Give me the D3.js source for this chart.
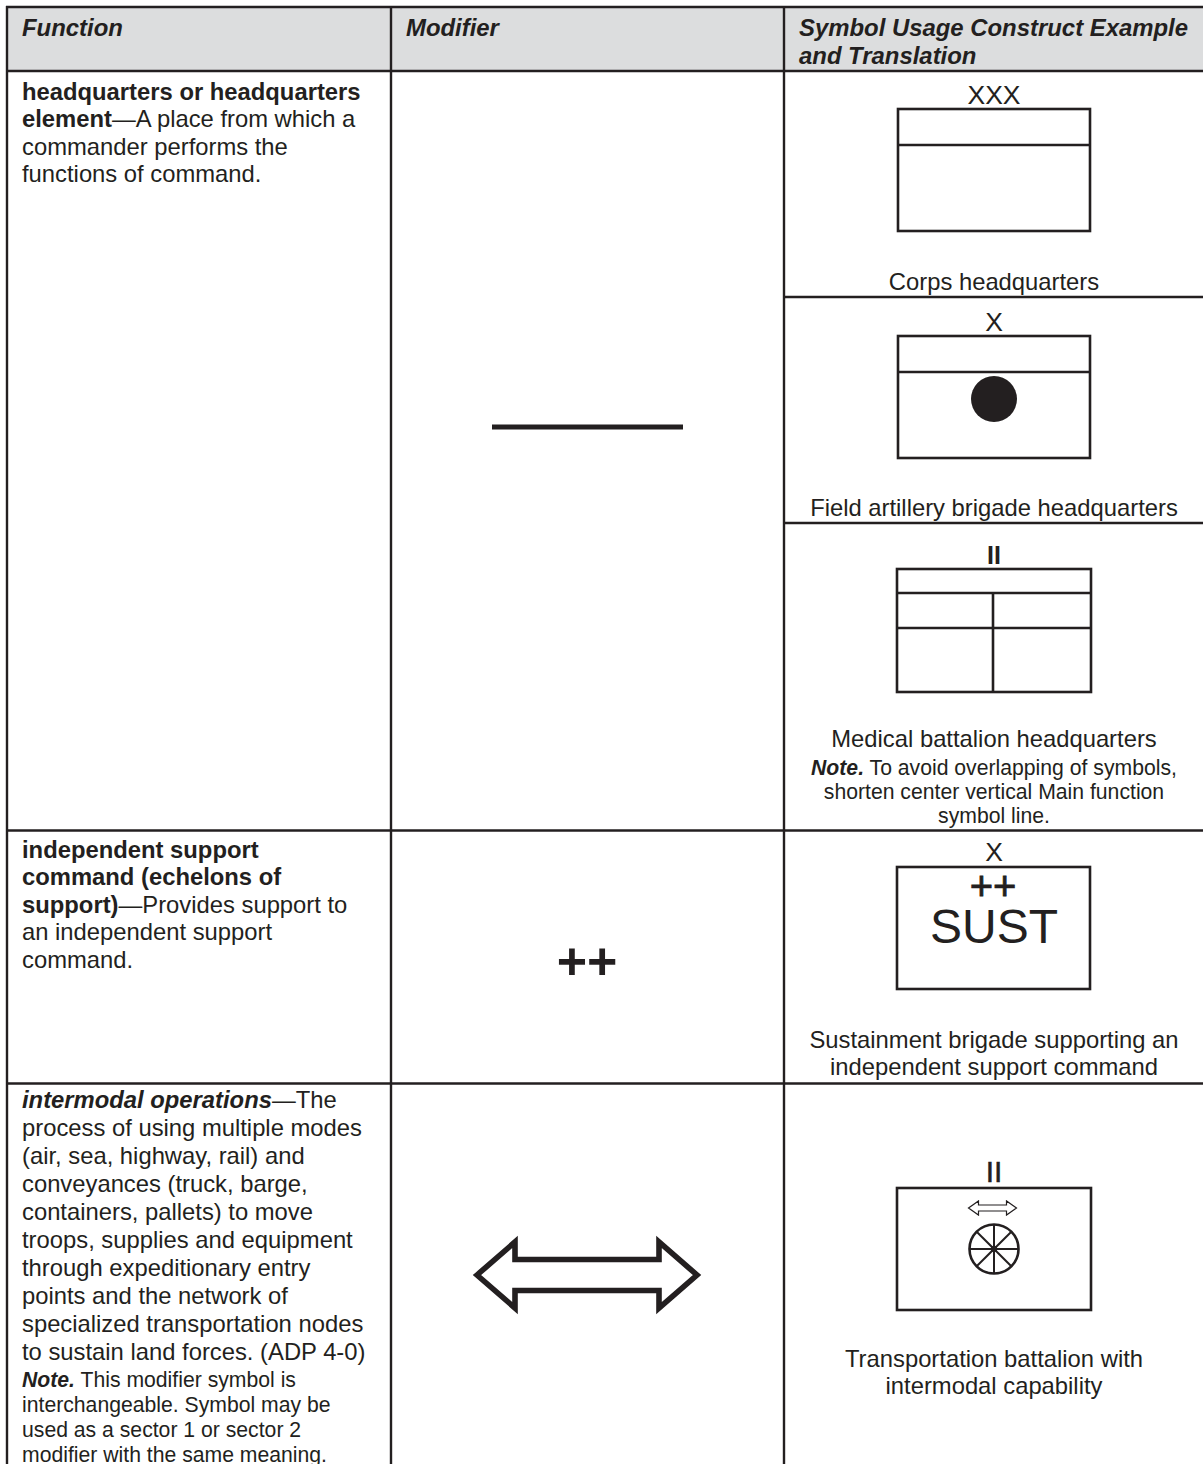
<!DOCTYPE html>
<html>
<head>
<meta charset="utf-8">
<script src="https://cdn.jsdelivr.net/npm/d3@7"></script>
<style>
  html, body { margin: 0; background: #fff; }
  svg { display: block; }
  text { font-family: "Liberation Sans", Arial, sans-serif; fill: #231f20; }
</style>
</head>
<body>
<div id="chart"></div>
<script>
// header
const headers = ["Function", "Modifier", "Symbol Usage Construct Example", "and Translation"];

// first column: term lines + what follows on the same line
const hqTerm  = ["headquarters or headquarters", "element", "", ""];
const hqRest  = ["", "—A place from which a", "commander performs the", "functions of command."];
const iscTerm = ["independent support", "command (echelons of", "support)", "", ""];
const iscRest = ["", "", "—Provides support to", "an independent support", "command."];
const imoTerm = ["intermodal operations"];
const imoRest = ["—The", "process of using multiple modes", "(air, sea, highway, rail) and",
  "conveyances (truck, barge,", "containers, pallets) to move", "troops, supplies and equipment",
  "through expeditionary entry", "points and the network of", "specialized transportation nodes",
  "to sustain land forces. (ADP 4-0)"];
const imoNote = ["This modifier symbol is", "interchangeable. Symbol may be",
  "used as a sector 1 or sector 2", "modifier with the same meaning."];

// third column
const echelons = ["XXX", "X", "II", "X", "II"];
const captions = ["Corps headquarters", "Field artillery brigade headquarters", "Medical battalion headquarters"];
const medNote  = ["To avoid overlapping of symbols,", "shorten center vertical Main function", "symbol line."];
const sustCaption = ["Sustainment brigade supporting an", "independent support command"];
const transCaption = ["Transportation battalion with", "intermodal capability"];

const svg = d3.select("#chart").append("svg").attr("width", 1203).attr("height", 1464);
const INK = "#231f20";
const BODY = 23.8, SMALL = 21.2, HEAD = 23.9;

// header band
svg.append("rect").attr("x", 7).attr("y", 7).attr("width", 1196).attr("height", 64).attr("fill", "#dcddde");

function rule(x1, y1, x2, y2, w) {
  return svg.append("line").attr("x1", x1).attr("y1", y1).attr("x2", x2).attr("y2", y2)
    .attr("stroke", INK).attr("stroke-width", w || 2.4);
}

// table rules
rule(6, 7, 1203, 7);
rule(6, 71, 1203, 71);
rule(6, 830.5, 1203, 830.5);
rule(6, 1083.5, 1203, 1083.5);
rule(784, 297, 1203, 297);
rule(784, 523, 1203, 523);
[7, 391, 784].forEach(x => rule(x, 6, x, 1464));

// helper for a plain text line
function label(x, y, str, size, anchor, weight, style) {
  return svg.append("text").attr("x", x).attr("y", y)
    .attr("font-size", size)
    .attr("text-anchor", anchor || "start")
    .attr("font-weight", weight || "normal")
    .attr("font-style", style || "normal")
    .text(str);
}

// line with a bold lead and regular remainder
function mixed(x, y, lead, rest, size, anchor, italic) {
  const t = svg.append("text").attr("x", x).attr("y", y)
    .attr("font-size", size).attr("text-anchor", anchor || "start");
  if (lead) t.append("tspan").attr("font-weight", "bold")
    .attr("font-style", italic ? "italic" : "normal").text(lead);
  if (rest) t.append("tspan").text(rest);
}

// header text
label(22, 36, headers[0], HEAD, "start", "bold", "italic");
label(406, 36, headers[1], HEAD, "start", "bold", "italic");
label(799, 36, headers[2], HEAD, "start", "bold", "italic");
label(799, 64, headers[3], HEAD, "start", "bold", "italic");

// first column
const LH = 27.4;
hqRest.forEach((r, i) => mixed(22, 100 + i * LH, hqTerm[i], r, BODY));
iscRest.forEach((r, i) => mixed(22, 858 + i * LH, iscTerm[i], r, BODY));
imoRest.forEach((r, i) => mixed(22, 1108 + i * 28, imoTerm[i], r, BODY, "start", true));
imoNote.forEach((r, i) => mixed(22, 1387 + i * 25, i === 0 ? "Note." : "", i === 0 ? " " + r : r, SMALL, "start", true));

// modifier column
rule(492, 427, 683, 427, 5);
label(587, 979, "++", 52, "middle", "bold");

const arrowLine = d3.line();
function doubleArrow(cx, cy, halfLen, headLen, headHalf, stemHalf, w) {
  const xl = cx - halfLen, xr = cx + halfLen;
  const pts = [
    [xl, cy], [xl + headLen, cy - headHalf], [xl + headLen, cy - stemHalf],
    [xr - headLen, cy - stemHalf], [xr - headLen, cy - headHalf], [xr, cy],
    [xr - headLen, cy + headHalf], [xr - headLen, cy + stemHalf],
    [xl + headLen, cy + stemHalf], [xl + headLen, cy + headHalf]
  ];
  svg.append("path").attr("d", arrowLine(pts) + "Z")
    .attr("fill", "none").attr("stroke", INK).attr("stroke-width", w)
    .attr("stroke-linejoin", "miter").attr("stroke-miterlimit", 6);
}
doubleArrow(587, 1275, 110, 38, 33, 15.5, 5.6);

// unit frames
function frame(x, y, w, h) {
  svg.append("rect").attr("x", x).attr("y", y).attr("width", w).attr("height", h)
    .attr("fill", "none").attr("stroke", INK).attr("stroke-width", 2.6);
}
const CX = 994;

// corps
label(CX, 104, echelons[0], 26.5, "middle");
frame(898, 109, 192, 122);
rule(898, 145, 1090, 145, 2.6);
label(CX, 290, captions[0], BODY, "middle");

// field artillery
label(CX, 331, echelons[1], 26.5, "middle");
frame(898, 336, 192, 122);
rule(898, 372, 1090, 372, 2.6);
svg.append("circle").attr("cx", CX).attr("cy", 399).attr("r", 23).attr("fill", INK);
label(CX, 516, captions[1], BODY, "middle");

// medical
label(CX, 564, echelons[2], 25, "middle", "bold");
frame(897, 569, 194, 123);
rule(897, 593, 1091, 593, 2.6);
rule(897, 628, 1091, 628, 2.6);
rule(993, 593, 993, 692, 2.6);
label(CX, 747, captions[2], BODY, "middle");
medNote.forEach((r, i) => mixed(CX, 775 + i * 24, i === 0 ? "Note." : "", i === 0 ? " " + r : r, SMALL, "middle", true));

// sustainment
label(CX, 861, echelons[3], 26.5, "middle");
frame(897, 867, 193, 122);
label(CX - 1, 900, "++", 40, "middle").attr("stroke", INK).attr("stroke-width", 0.8);
label(CX, 943, "SUST", 48, "middle");
sustCaption.forEach((c, i) => label(CX, 1048 + i * 27, c, BODY, "middle"));

// transportation
label(CX, 1182, echelons[4], 30, "middle").attr("stroke", INK).attr("stroke-width", 0.5);
frame(897, 1188, 194, 122);
doubleArrow(CX - 1.5, 1208, 24, 10, 7, 3, 1.2);
svg.append("circle").attr("cx", CX).attr("cy", 1249).attr("r", 24.5)
  .attr("fill", "none").attr("stroke", INK).attr("stroke-width", 2.6);
d3.range(4).forEach(i => {
  const a = i * Math.PI / 4, dx = 24.5 * Math.cos(a), dy = 24.5 * Math.sin(a);
  rule(CX - dx, 1249 - dy, CX + dx, 1249 + dy, 2);
});
svg.append("circle").attr("cx", CX).attr("cy", 1249).attr("r", 3.2).attr("fill", INK);
transCaption.forEach((c, i) => label(CX, 1367 + i * 27, c, BODY, "middle"));
</script>
</body>
</html>
